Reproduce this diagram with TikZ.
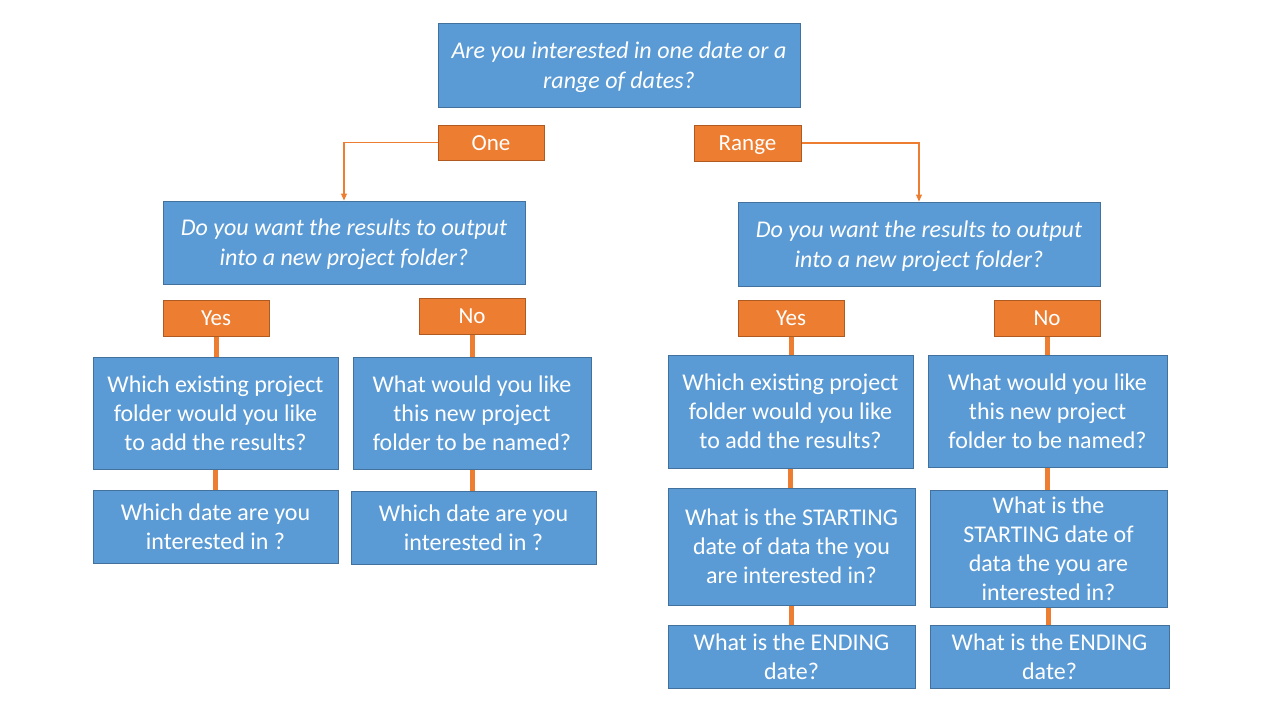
\documentclass[tikz,border=0pt]{standalone}
\usepackage{fontspec}
\setmainfont{Carlito}
\usetikzlibrary{arrows.meta}
\definecolor{bluefill}{HTML}{5B9BD5}
\definecolor{blueline}{HTML}{41719C}
\definecolor{orfill}{HTML}{ED7D31}
\definecolor{orline}{HTML}{AE5A21}
\tikzset{
  qbox/.style={draw=blueline, fill=bluefill, line width=1pt, inner sep=0pt, align=center,
    text=white, font=\fontsize{24}{29}\selectfont},
  itbox/.style={qbox, font=\fontsize{24}{30}\selectfont\itshape, text depth=0pt},
  abox/.style={draw=orline, fill=orfill, line width=1pt, inner sep=0pt, align=center,
    text=white, font=\fontsize{23}{29}\selectfont, minimum width=106pt, minimum height=36pt,
    text height=16pt, text depth=1pt},
  thick link/.style={draw=orfill, line width=5pt},
  arrow link/.style={draw=orfill, line width=1.2pt, -{Triangle[length=7pt,width=6pt]}}
}
\begin{document}
\begin{tikzpicture}[x=1pt,y=-1pt]
\useasboundingbox[fill=white] (0,0) rectangle (1280,720);
% top
\node[itbox, minimum width=362pt, minimum height=84pt] (top) at (619,65) {Are you interested in one date or a\\range of dates?};
\node[abox, minimum height=35pt] (one) at (491,142.5) {One};
\node[abox, minimum width=107pt] (range) at (747.5,143) {Range};
% second level
\node[itbox, minimum width=362pt, minimum height=83pt] (qL) at (344,242.5) {Do you want the results to output\\into a new project folder?};
\node[itbox, minimum width=362pt, minimum height=84pt] (qR) at (919,244) {Do you want the results to output\\into a new project folder?};
% yes / no
\node[abox] (yesL) at (216,318) {Yes};
\node[abox] (noL) at (472,316) {No};
\node[abox] (yesR) at (791,318) {Yes};
\node[abox] (noR) at (1047,318) {No};
% left branch boxes
\node[qbox, minimum width=245pt, minimum height=112pt] (exL) at (215.5,413) {Which existing project\\folder would you like\\to add the results?};
\node[qbox, minimum width=238pt, minimum height=112pt] (newL) at (472,413) {What would you like\\this new project\\folder to be named?};
\node[qbox, minimum width=245pt, minimum height=73pt] (dateA) at (215.5,526.5) {Which date are you\\interested in ?};
\node[qbox, minimum width=245pt, minimum height=73pt] (dateB) at (473.5,527.5) {Which date are you\\interested in ?};
% right branch boxes
\node[qbox, minimum width=245pt, minimum height=113pt] (exR) at (790.5,411.5) {Which existing project\\folder would you like\\to add the results?};
\node[qbox, minimum width=239pt, minimum height=112pt] (newR) at (1047.5,411) {What would you like\\this new project\\folder to be named?};
\node[qbox, minimum width=247pt, minimum height=117pt] (startL) at (791.5,546.5) {What is the STARTING\\date of data the you\\are interested in?};
\node[qbox, minimum width=237pt, minimum height=117pt] (startR) at (1048.5,548.5) {What is the\\STARTING date of\\data the you are\\interested in?};
\node[qbox, minimum width=247pt, minimum height=63pt] (endL) at (791.5,656.5) {What is the ENDING\\date?};
\node[qbox, minimum width=239pt, minimum height=63pt] (endR) at (1049.5,656.5) {What is the ENDING\\date?};
% arrows
\draw[arrow link] (one.west) -| (qL.north);
\draw[arrow link] (range.east) -| (qR.north);
% thick connectors
\draw[thick link] (yesL.south) -- (yesL.south |- exL.north);
\draw[thick link] (noL.south) -- (noL.south |- newL.north);
\draw[thick link] (exL.south) -- (exL.south |- dateA.north);
\draw[thick link] (newL.south) -- (newL.south |- dateB.north);
\draw[thick link] (yesR.south) -- (yesR.south |- exR.north);
\draw[thick link] (noR.south) -- (noR.south |- newR.north);
\draw[thick link] (exR.south) -- (exR.south |- startL.north);
\draw[thick link] (newR.south) -- (newR.south |- startR.north);
\draw[thick link] (startL.south) -- (startL.south |- endL.north);
\draw[thick link] (startR.south) -- (startR.south |- endR.north);
\end{tikzpicture}
\end{document}
